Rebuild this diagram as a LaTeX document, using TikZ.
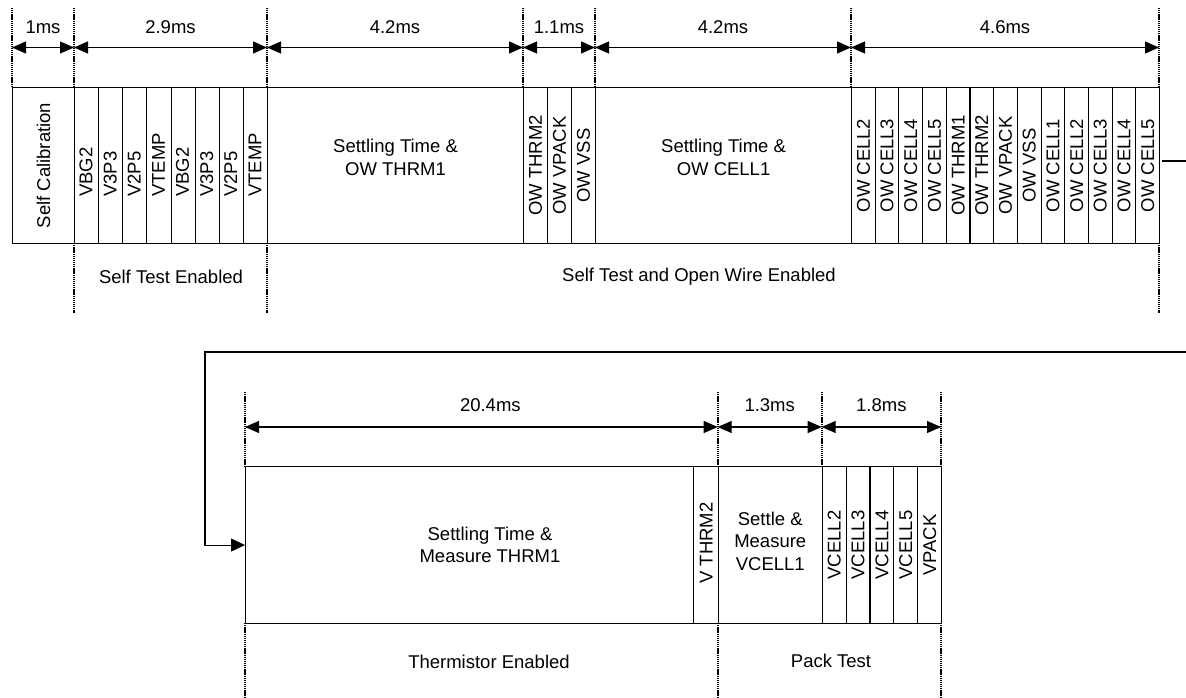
\documentclass[tikz,border=0pt]{standalone}
\usepackage{fontspec}
\setmainfont{Liberation Sans}
\usetikzlibrary{arrows.meta}
\begin{document}
\begin{tikzpicture}[x=1pt,y=-1pt,
  box/.style={draw, line width=1.1pt, inner sep=0pt, anchor=north west},
  lbl/.style={font=\fontsize{18.5}{22.5}\selectfont, inner sep=0pt, align=center},
  vlbl/.style={lbl, rotate=90},
  guide/.style={line width=1.6pt, dash pattern=on 1.3pt off 0.8pt},
  dim/.style={line width=1.1pt, {Triangle[length=14pt,width=12pt]}-{Triangle[length=14pt,width=12pt]}},
  link/.style={line width=1.1pt},
]
\useasboundingbox (0,0) rectangle (1186,698);

% ---------------- top row ----------------
\node[box, minimum width=62, minimum height=156] (cal) at (12,87) {};
\node[vlbl] (calt) at (cal.center) {Self Calibration};
\foreach \t [count=\i] in {VBG2,V3P3,V2P5,VTEMP,VBG2,V3P3,V2P5,VTEMP}{
  \node[box, minimum width=24.125, minimum height=156] (st\i) at ({74+24.125*(\i-1)},87) {};
  \node[vlbl, anchor=west] (stt\i) at ({74+24.125*(\i-1)+12.06},197) {\t};
}
\node[box, minimum width=256, minimum height=156] (set1) at (267,87) {};
\node[lbl] (set1t) at ([yshift=8pt]set1.center) {Settling Time \&\\OW THRM1};
\foreach \t [count=\i] in {OW THRM2,OW VPACK,OW VSS}{
  \node[box, minimum width=24, minimum height=156] (ow\i) at ({523+24*(\i-1)},87) {};
  \node[vlbl] (owt\i) at (ow\i.center) {\t};
}
\node[box, minimum width=256, minimum height=156] (set2) at (595,87) {};
\node[lbl] (set2t) at ([yshift=8pt]set2.center) {Settling Time \&\\OW CELL1};
\foreach \t [count=\i] in {OW CELL2,OW CELL3,OW CELL4,OW CELL5,OW THRM1,OW THRM2,OW VPACK,OW VSS,OW CELL1,OW CELL2,OW CELL3,OW CELL4,OW CELL5}{
  \node[box, minimum width=23.6923, minimum height=156] (oc\i) at ({851+23.6923*(\i-1)},87) {};
  \node[vlbl] (oct\i) at (oc\i.center) {\t};
}

% guides top
\foreach \x in {12,74,267,523,595,851,1159} \draw[guide] (\x,8) -- (\x,87);
\foreach \x in {74,267,1159} \draw[guide] (\x,243) -- (\x,313);

% dimensions top
\foreach \n/\x in {a/12,b/74,c/267,d/523,e/595,f/851,g/1159} \coordinate (t\n) at (\x,47.5);
\draw[dim] (ta) -- node[lbl, yshift=20.5pt] {1ms} (tb);
\draw[dim] (tb) -- node[lbl, yshift=20.5pt] {2.9ms} (tc);
\draw[dim] (tc) -- node[lbl, yshift=20.5pt] {4.2ms} (td);
\draw[dim] (td) -- node[lbl, yshift=20.5pt] {1.1ms} (te);
\draw[dim] (te) -- node[lbl, yshift=20.5pt] {4.2ms} (tf);
\draw[dim] (tf) -- node[lbl, yshift=20.5pt] {4.6ms} (tg);

\node[lbl] (ste) at (171,277) {Self Test Enabled};
\node[lbl] (stow) at (699,277) {Self Test and Open Wire Enabled};

% ---------------- bottom row ----------------
\node[box, minimum width=448.3, minimum height=157] (big) at (245,466) {};
\node[lbl] (bigt) at (490,545) {Settling Time \&\\Measure THRM1};
\node[box, minimum width=24.4, minimum height=157] (vth) at (693.3,466) {};
\node[vlbl] (vtht) at ([yshift=2pt]vth.center) {V THRM2};
\node[box, minimum width=104, minimum height=157] (sm) at (717.7,466) {};
\node[lbl] (smt) at ([yshift=4pt]sm.center) {Settle \&\\Measure\\VCELL1};
\foreach \t [count=\i] in {VCELL2,VCELL3,VCELL4,VCELL5,VPACK}{
  \node[box, minimum width=23.86, minimum height=157] (vc\i) at ({821.7+23.86*(\i-1)},466) {};
  \node[vlbl] (vct\i) at (vc\i.center) {\t};
}

% guides bottom
\foreach \x in {245,717.7,821.7,941} \draw[guide] (\x,392) -- (\x,466);
\foreach \x in {245,717.7,941} \draw[guide] (\x,623) -- (\x,698);

% dimensions bottom
\foreach \n/\x in {a/245,b/717.7,c/821.7,d/941} \coordinate (b\n) at (\x,427);
\draw[dim] (ba) -- node[lbl, yshift=22pt, xshift=9pt] {20.4ms} (bb);
\draw[dim] (bb) -- node[lbl, yshift=22pt] {1.3ms} (bc);
\draw[dim] (bc) -- node[lbl, yshift=22pt] {1.8ms} (bd);

\node[lbl] (the) at (489,662) {Thermistor Enabled};
\node[lbl] (pt) at (831,661) {Pack Test};

% ---------------- continuation connector ----------------
\coordinate (outA) at (1162,161);
\coordinate (outB) at (1186,161);
\draw[link] (outA) -- (outB);
\coordinate (inA) at (1186,352);
\coordinate (turn) at (205,352);
\draw[link, -{Triangle[length=14pt,width=13pt]}] (inA) -- (turn) |- (big.west);
\end{tikzpicture}
\end{document}
